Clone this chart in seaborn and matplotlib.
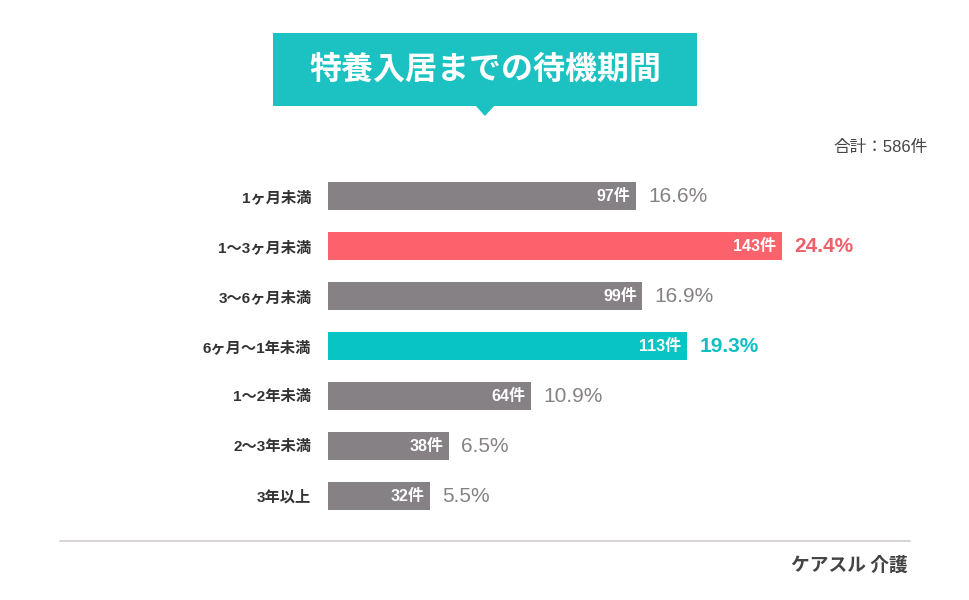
import matplotlib
matplotlib.use("Agg")
import matplotlib.pyplot as plt
import seaborn as sns
import pandas as pd
from matplotlib.patches import Polygon, Rectangle

categories = ["1ヶ月未満", "1〜3ヶ月未満", "3〜6ヶ月未満", "6ヶ月〜1年未満", "1〜2年未満", "2〜3年未満", "3年以上"]
counts = [97, 143, 99, 113, 64, 38, 32]
percents = ["16.6%", "24.4%", "16.9%", "19.3%", "10.9%", "6.5%", "5.5%"]
bar_colors = ["#858185", "#fb626b", "#858185", "#08c4c3", "#858185", "#858185", "#858185"]
pct_colors = ["#858185", "#f0606a", "#858185", "#12bfc0", "#858185", "#858185", "#858185"]
title = "特養入居までの待機期間"
total_label = "合計：586件"
source = "ケアスル 介護"

sns.set_theme(style="white")
MIX = ['Liberation Sans', 'Noto Sans CJK JP', 'DejaVu Sans']
plt.rcParams['font.family'] = MIX

W, H = 970, 600
fig = plt.figure(figsize=(W / 100, H / 100), dpi=100)

def fx(px):
    return px / W

def fy(py):
    return 1 - py / H

ax_left, ax_right, ax_top, ax_bot = 328, 928, 171, 521
ax = fig.add_axes([fx(ax_left), fy(ax_bot), (ax_right - ax_left) / W, (ax_bot - ax_top) / H])

df = pd.DataFrame({"cat": categories, "count": counts})
sns.barplot(data=df, x="count", y="cat", hue="cat", palette=bar_colors,
            legend=False, width=0.56, ax=ax, saturation=1, linewidth=0)

px_per_unit = 3.175
ax.set_xlim(0, (ax_right - ax_left) / px_per_unit)
ax.set_ylim(6.5, -0.5)
for s in ax.spines.values():
    s.set_visible(False)
ax.set_xticks([])
ax.set_xlabel("")
ax.set_ylabel("")
ax.tick_params(axis="y", length=0, pad=12)
for lbl in ax.get_yticklabels():
    lbl.set_fontweight("bold")
    lbl.set_fontsize(11)
    lbl.set_color("#333333")

for i, (c, p, pc) in enumerate(zip(counts, percents, pct_colors)):
    ax.annotate(f"{c}件", xy=(c, i), xytext=(-4, 0), textcoords="offset points",
                ha="right", va="center", color="white", fontsize=11.5, fontweight="bold")
    ax.annotate(p, xy=(c, i), xytext=(9, 0), textcoords="offset points",
                ha="left", va="center", color=pc, fontsize=15,
                fontweight="bold" if pc != "#858185" else "normal")

# Title box
teal = "#1cc2c2"
fig.patches.append(Rectangle((fx(273), fy(106)), fx(697) - fx(273), fy(33) - fy(106),
                             transform=fig.transFigure, facecolor=teal, edgecolor="none"))
fig.patches.append(Polygon([(fx(475), fy(105)), (fx(495), fy(105)), (fx(485), fy(116))],
                           closed=True, transform=fig.transFigure, facecolor=teal, edgecolor="none"))
fig.text(fx(485), fy(70), title, ha="center", va="center", color="white",
         fontsize=23, fontweight="bold", family=['Noto Sans CJK JP', 'DejaVu Sans'])

fig.text(fx(928), fy(147), total_label, ha="right", va="center", color="#444444", fontsize=12)

fig.add_artist(plt.Line2D([fx(60), fx(910)], [fy(541), fy(541)], transform=fig.transFigure,
                          color="#d8d4d8", linewidth=1.5))
fig.text(fx(908), fy(565), source, ha="right", va="center", color="#444444",
         fontsize=13.5, fontweight="bold", family=['Noto Sans CJK JP', 'DejaVu Sans'])

fig.savefig("out.png", dpi=100, facecolor="white")
